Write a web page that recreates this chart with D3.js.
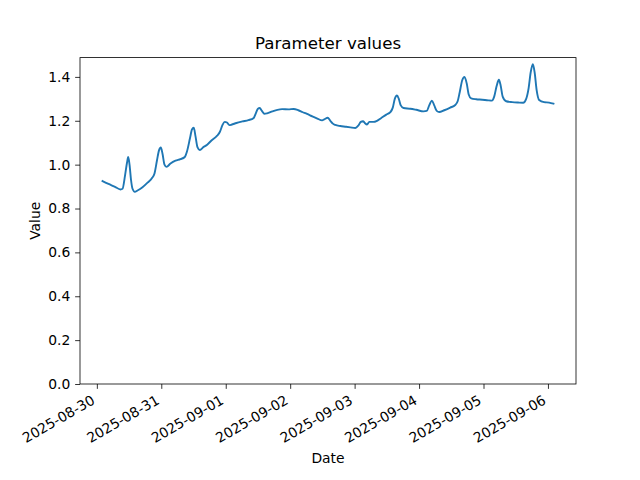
<!DOCTYPE html>
<html>
<head>
<meta charset="utf-8">
<script src="https://cdn.jsdelivr.net/npm/d3@7"></script>
<style>
  body { margin: 0; background: #fff; }
  svg { display: block; }
  text { font-family: "DejaVu Sans", sans-serif; fill: #000; }
</style>
</head>
<body>
<svg id="chart" width="640" height="480"></svg>
<script>
// ---- Data ----
const startTime = "2025-08-30T00:00:00";
const hoursSinceStart = [
  2.12, 4.35, 6.59, 8.82, 9.56, 10.49, 11.24, 11.68, 12.17, 12.73,
  13.28, 14.14, 15.14, 17.00, 18.87, 20.61, 21.47, 22.40, 23.14, 23.81,
  24.45, 25.19, 25.93, 27.42, 29.28, 31.14, 32.74, 33.56, 34.68, 35.42,
  36.09, 36.73, 37.47, 38.33, 39.70, 41.08, 42.68, 44.80, 45.84, 46.77,
  47.63, 48.45, 49.38, 50.12, 51.98, 54.21, 56.45, 58.42, 59.24, 59.98,
  60.65, 61.47, 62.40, 63.40, 65.38, 67.24, 68.99, 71.33, 73.30, 75.05,
  76.54, 78.29, 80.26, 82.12, 83.87, 84.91, 85.95, 86.96, 87.89, 88.82,
  90.68, 92.54, 94.40, 96.26, 97.38, 98.31, 99.12, 99.79, 100.61, 101.47,
  102.96, 104.33, 105.93, 107.80, 109.28, 110.21, 110.96, 111.78, 112.45, 113.19,
  114.23, 116.72, 118.96, 121.67, 122.86, 123.79, 124.80, 125.66, 126.58, 127.51,
  129.38, 131.61, 133.47, 134.40, 135.14, 136.07, 136.93, 137.75, 138.49, 139.42,
  141.28, 143.52, 145.75, 147.12, 147.98, 148.91, 149.73, 150.40, 151.14, 152.44,
  154.68, 156.91, 158.77, 159.89, 160.82, 161.56, 162.38, 163.05, 163.79, 164.72,
  166.58, 168.44, 170.05
];
const values = [
  0.925, 0.912, 0.900, 0.887, 0.890, 0.950, 1.010, 1.035, 1.000, 0.930,
  0.890, 0.876, 0.882, 0.897, 0.918, 0.940, 0.960, 1.020, 1.065, 1.078,
  1.050, 1.000, 0.990, 1.005, 1.018, 1.025, 1.035, 1.060, 1.120, 1.160,
  1.168, 1.130, 1.080, 1.067, 1.080, 1.091, 1.110, 1.132, 1.150, 1.180,
  1.195, 1.192, 1.180, 1.182, 1.190, 1.197, 1.203, 1.213, 1.235, 1.255,
  1.258, 1.245, 1.232, 1.234, 1.243, 1.250, 1.253, 1.252, 1.254, 1.248,
  1.240, 1.231, 1.220, 1.210, 1.202, 1.208, 1.214, 1.200, 1.187, 1.181,
  1.176, 1.173, 1.170, 1.167, 1.178, 1.195, 1.198, 1.190, 1.183, 1.195,
  1.195, 1.200, 1.213, 1.228, 1.239, 1.260, 1.300, 1.315, 1.300, 1.270,
  1.258, 1.255, 1.250, 1.243, 1.245, 1.270, 1.292, 1.270, 1.245, 1.240,
  1.248, 1.260, 1.272, 1.290, 1.330, 1.385, 1.400, 1.370, 1.320, 1.302,
  1.298, 1.296, 1.293, 1.292, 1.310, 1.360, 1.387, 1.360, 1.310, 1.289,
  1.285, 1.283, 1.282, 1.300, 1.350, 1.420, 1.458, 1.420, 1.340, 1.295,
  1.285, 1.283, 1.278
];
const xTickLabels = ["2025-08-30","2025-08-31","2025-09-01","2025-09-02",
                     "2025-09-03","2025-09-04","2025-09-05","2025-09-06"];
const yTickValues = [0.0, 0.2, 0.4, 0.6, 0.8, 1.0, 1.2, 1.4];
const titleText = "Parameter values";
const xLabelText = "Date";
const yLabelText = "Value";

// ---- Layout ----
const plotLeft = 80, plotRight = 576, plotTop = 57.6, plotBottom = 384;
const fs = 13.89;

const t0 = new Date(startTime);
const toDate = h => new Date(t0.getTime() + h * 3600e3);
const data = hoursSinceStart.map((h, i) => ({ date: toDate(h), value: values[i] }));
const parseDay = d3.timeParse("%Y-%m-%d");

const svg = d3.select("#chart");

const xExt = d3.extent(data, d => d.date);
const span = xExt[1] - xExt[0];
const x = d3.scaleTime()
  .domain([new Date(+xExt[0] - 0.05 * span), new Date(+xExt[1] + 0.05 * span)])
  .range([plotLeft, plotRight]);

const yMax = 1.488;
const y = d3.scaleLinear().domain([0, yMax]).range([plotBottom, plotTop]);

// line
const line = d3.line()
  .curve(d3.curveMonotoneX)
  .x(d => x(d.date)).y(d => y(d.value));
svg.append("path")
  .datum(data)
  .attr("fill", "none")
  .attr("stroke", "#1f77b4")
  .attr("stroke-width", 1.9)
  .attr("stroke-linejoin", "round")
  .attr("stroke-linecap", "square")
  .attr("d", line);

// x axis
const xAxis = d3.axisBottom(x)
  .tickValues(xTickLabels.map(parseDay))
  .tickFormat(d3.timeFormat("%Y-%m-%d"))
  .tickSize(4.86)
  .tickPadding(4.86);
const gx = svg.append("g").attr("transform", `translate(0,${plotBottom})`).call(xAxis);
gx.select(".domain").remove();
gx.selectAll(".tick line").attr("stroke", "#000").attr("stroke-width", 0.8);
gx.selectAll(".tick text")
  .attr("font-size", fs)
  .attr("font-family", "DejaVu Sans")
  .attr("fill", "#000")
  .attr("text-anchor", "end")
  .attr("dy", null)
  .attr("y", 0)
  .attr("transform", "translate(-1.5,19) rotate(-30)");

// y axis
const yAxis = d3.axisLeft(y)
  .tickValues(yTickValues)
  .tickFormat(d3.format(".1f"))
  .tickSize(4.86)
  .tickPadding(4.86);
const gy = svg.append("g").attr("transform", `translate(${plotLeft},0)`).call(yAxis);
gy.select(".domain").remove();
gy.selectAll(".tick line").attr("stroke", "#000").attr("stroke-width", 0.8);
gy.selectAll(".tick text")
  .attr("font-size", fs)
  .attr("font-family", "DejaVu Sans")
  .attr("fill", "#000");

// frame
svg.append("rect")
  .attr("x", plotLeft).attr("y", plotTop)
  .attr("width", plotRight - plotLeft).attr("height", plotBottom - plotTop)
  .attr("fill", "none").attr("stroke", "#000").attr("stroke-width", 0.8);

// title and labels
svg.append("text")
  .attr("x", (plotLeft + plotRight) / 2).attr("y", 49.3)
  .attr("text-anchor", "middle")
  .attr("font-size", 16.67)
  .text(titleText);

svg.append("text")
  .attr("x", (plotLeft + plotRight) / 2).attr("y", 463)
  .attr("text-anchor", "middle")
  .attr("font-size", fs)
  .text(xLabelText);

svg.append("text")
  .attr("transform", `translate(39.5,${(plotTop + plotBottom) / 2}) rotate(-90)`)
  .attr("text-anchor", "middle")
  .attr("font-size", fs)
  .text(yLabelText);
</script>
</body>
</html>
